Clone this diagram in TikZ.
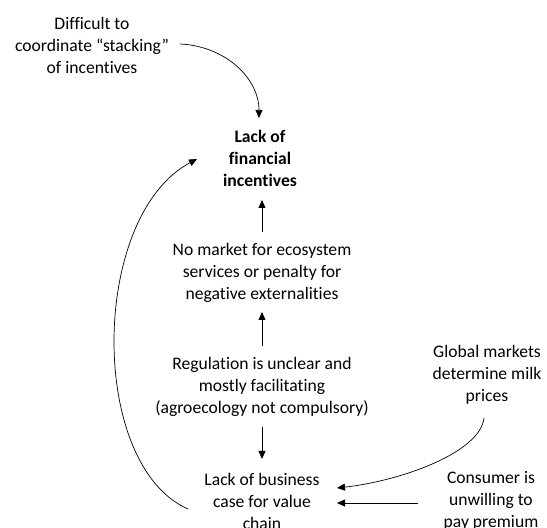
\documentclass[tikz,border=0pt]{standalone}
\usepackage{fontspec}
\setmainfont{Carlito}[Ligatures=NoCommon]
\usetikzlibrary{arrows.meta,calc}
\begin{document}
\begin{tikzpicture}[x=1pt,y=1pt,
  lbl/.style={align=center,inner sep=0pt,font=\fontsize{17.6}{22}\selectfont},
  arr/.style={draw=black,line width=0.8pt,-{Triangle[length=8pt,width=7pt]}},
  curvearr/.style={arr,line width=0.7pt},
]
\useasboundingbox (0,0) rectangle (547,528);

% causes and effects
\node[lbl] (diff) at (92,483) {Difficult to\\coordinate “stacking”\\of incentives};
\node[lbl,font=\fontsize{17.6}{22}\selectfont\bfseries] (lack) at (260,370) {Lack of\\financial\\incentives};
\node[lbl] (nomarket) at (262,255) {No market for ecosystem\\services or penalty for\\negative externalities};
\node[lbl] (reg) at (262,141) {Regulation is unclear and\\mostly facilitating\\(agroecology not compulsory)};
\node[lbl] (biz) at (262,27) {Lack of business\\case for value\\chain};
\node[lbl] (global) at (487,153) {Global markets\\determine milk\\prices};
\node[lbl] (consumer) at (491,27) {Consumer is\\unwilling to\\pay premium};

% links
\draw[curvearr] ($(diff)+(88,1)$) .. controls ($(diff)+(133,-1)$) and ($(lack)+(-1,80)$) .. ($(lack)+(-1,40)$);
\draw[arr] ($(nomarket)+(0,41)$) -- ($(lack)+(2,-42)$);
\draw[arr] ($(reg)+(0,41)$) -- ($(nomarket)+(0,-39)$);
\draw[arr] ($(reg)+(0,-40)$) -- ($(biz)+(0,42)$);
\draw[curvearr] ($(global)+(-3,-43)$) .. controls ($(global)+(-7,-78)$) and ($(biz)+(138,20)$) .. ($(biz)+(75,13)$);
\draw[arr] ($(consumer)+(-73,-2)$) -- ($(biz)+(75,-2)$);
\draw[curvearr] ($(biz)+(-74,-8)$) .. controls ($(biz)+(-174,36)$) and ($(lack)+(-170,-58)$) .. ($(lack)+(-63,-1)$);
\end{tikzpicture}
\end{document}
